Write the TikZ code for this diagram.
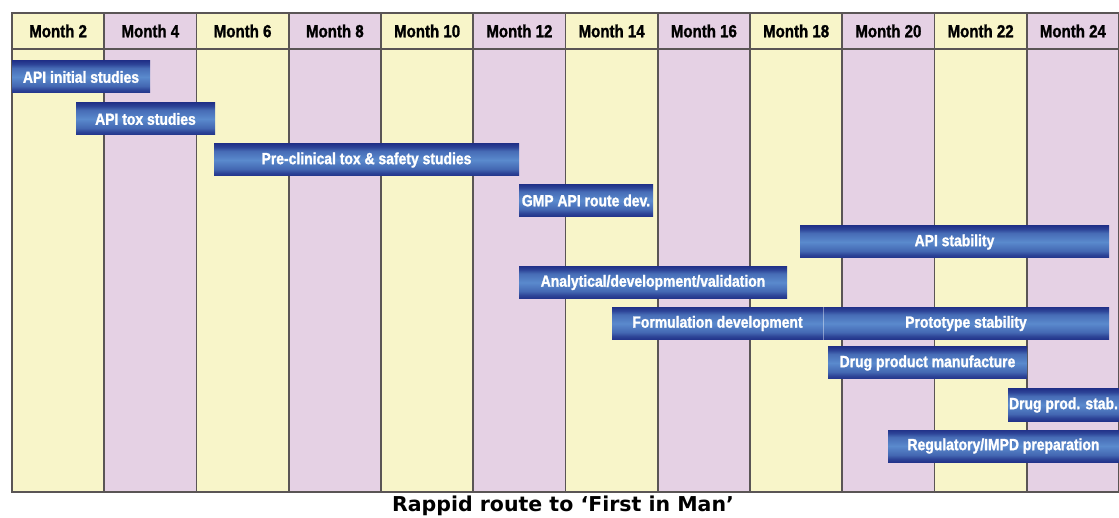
\documentclass[tikz,border=0pt]{standalone}
\usepackage{fontspec}
\newfontfamily\cond[FakeStretch=0.86, BoldFeatures={FakeBold=1.3}]{Liberation Sans}
\newfontfamily\titlefont{DejaVu Sans}
\definecolor{colY}{HTML}{F8F5C9}
\definecolor{colP}{HTML}{E5D1E4}
\definecolor{gridc}{HTML}{5A5555}
\definecolor{bardark}{HTML}{22338A}
\definecolor{barlight}{HTML}{5A8ACD}
\pgfdeclareverticalshading{barshade}{100bp}{color(0bp)=(bardark); color(25bp)=(bardark); color(30bp)=(bardark!80!barlight); color(36bp)=(bardark!40!barlight); color(50bp)=(barlight); color(64bp)=(bardark!35!barlight); color(70bp)=(bardark!80!barlight); color(75bp)=(bardark); color(100bp)=(bardark)}
\begin{document}
\begin{tikzpicture}[x=1pt,y=-1pt,
  bar/.style={minimum height=32pt, inner sep=0pt, shading=barshade, text=white,
    font=\cond\bfseries\fontsize{16.2}{17}\selectfont},
  hdr/.style={font=\cond\bfseries\fontsize{17.5}{18}\selectfont, text=black, inner sep=0pt},
  gridline/.style={draw=gridc, line width=1.6pt},
  ttl/.style={font=\titlefont\bfseries\fontsize{20.5}{22}\selectfont, text=black, inner sep=0pt}]
\useasboundingbox (0,0) rectangle (1119,518);
\fill[white] (0,0) rectangle (1119,518);
% columns
\foreach \i/\lab in {0/2,1/4,2/6,3/8,4/10,5/12,6/14,7/16,8/18,9/20,10/22,11/24}{
  \pgfmathsetmacro{\xa}{12+\i*92.25}
  \pgfmathsetmacro{\xb}{12+(\i+1)*92.25}
  \pgfmathtruncatemacro{\odd}{mod(\i,2)}
  \ifnum\odd=0 \fill[colY] (\xa,13) rectangle (\xb,492); \else \fill[colP] (\xa,13) rectangle (\xb,492); \fi
  \node[hdr] (h\lab) at ({(\xa+\xb)/2},31) {Month \lab};
}
% grid lines
\foreach \i in {1,...,11}{
  \draw[gridline] ({12+\i*92.25},13) -- ({12+\i*92.25},492);
}
\draw[gridline] (12,13) rectangle (1118.5,492);
\draw[gridline] (12,49) -- (1118.5,49);
% bars
\newcommand{\ganttbar}[5]{\node[bar, minimum width={(#3-#2)*1pt}] (#1) at ({(#2+#3)/2},#4) {#5};}
\ganttbar{b1}{12}{150}{77}{API initial studies}
\ganttbar{b2}{76}{215}{119}{API tox studies}
\ganttbar{b3}{214}{519}{160}{Pre-clinical tox \& safety studies}
\ganttbar{b4}{519}{653}{200.5}{GMP API route dev.}
\ganttbar{b5}{800}{1109}{242}{API stability}
\ganttbar{b6}{519}{787}{282.5}{Analytical/development/validation}
\ganttbar{b7}{612}{823}{323.5}{Formulation development}
\ganttbar{b8}{823}{1109}{323.5}{Prototype stability}
\ganttbar{b9}{828}{1027}{363}{Drug product manufacture}
\ganttbar{b10}{1008}{1119}{405}{Drug prod. stab.}
\ganttbar{b11}{888}{1119}{446}{Regulatory/IMPD preparation}
\draw[white, opacity=0.4, line width=0.6pt] (b7.north east) -- (b7.south east);
% title
\node[ttl] (title) at (563,506) {Rappid route to ‘First in Man’};
\end{tikzpicture}
\end{document}
